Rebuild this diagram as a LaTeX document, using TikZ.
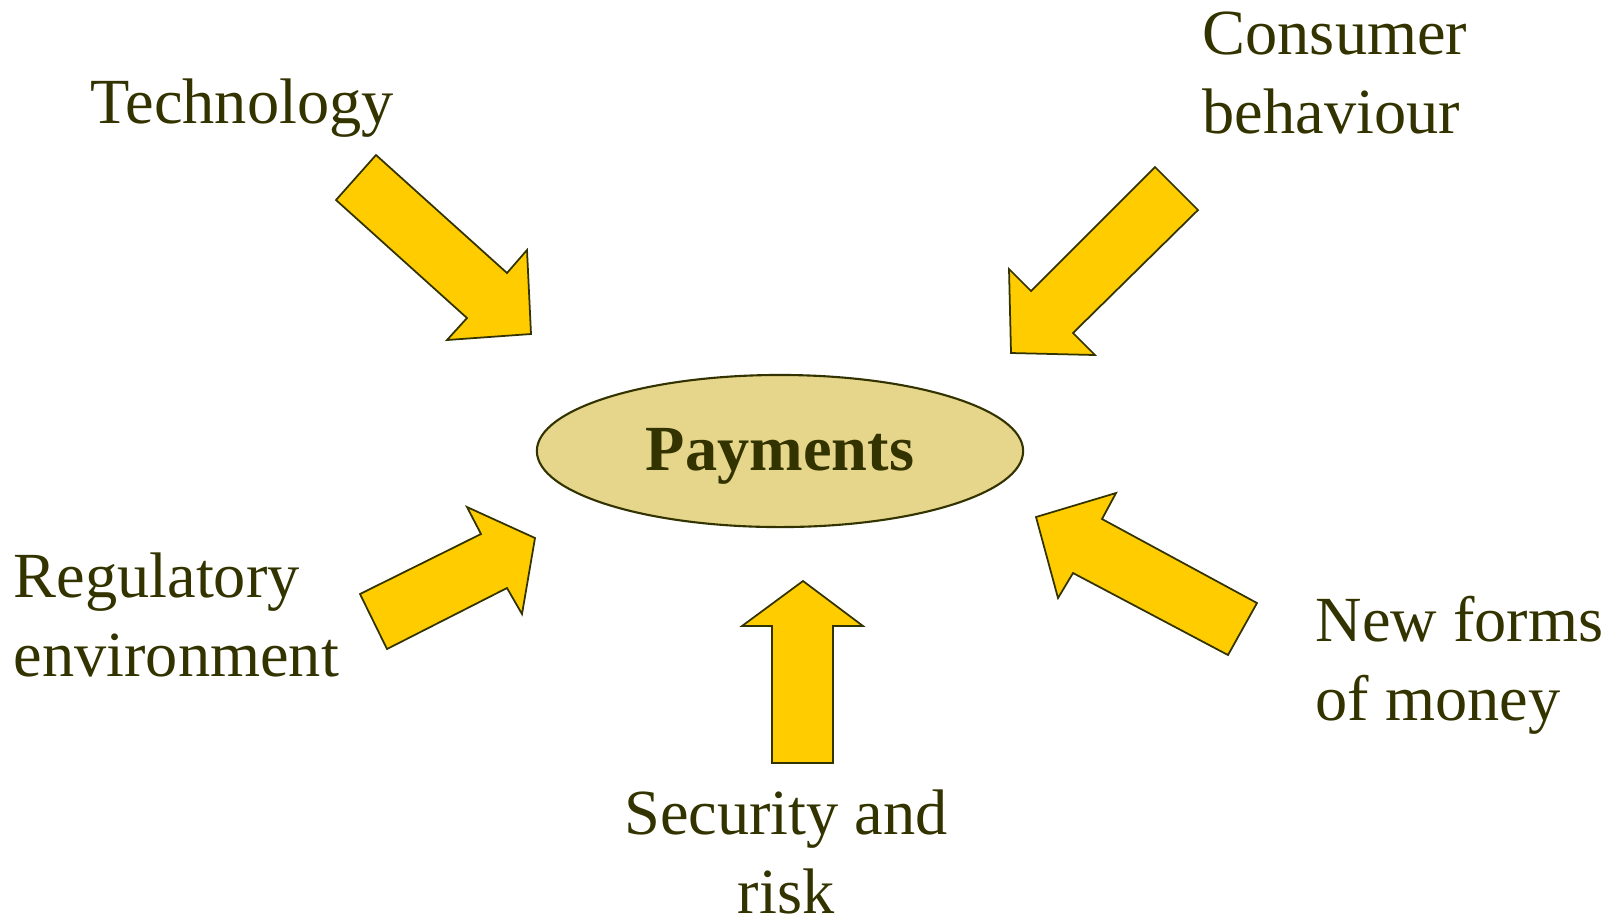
\documentclass[tikz,border=0pt]{standalone}
\usepackage{fontspec}
\setmainfont{Liberation Serif}
\usetikzlibrary{shapes.geometric}
\definecolor{olivetext}{HTML}{333300}
\definecolor{arrowfill}{HTML}{FFCC00}
\definecolor{ovalfill}{HTML}{E5D68B}

\begin{document}
\begin{tikzpicture}[
		x=0.01cm, y=-0.01cm,
		every node/.style={inner sep=0pt, text=olivetext, font=\fontsize{18.3}{22.2}\selectfont},
		driver/.style={anchor=base west, align=left},
		blockarrow/.style={fill=arrowfill, draw=olivetext, line width=0.5pt, line join=miter}
	]
  \useasboundingbox (0,0) rectangle (1606,923);
  \node (pay) [ellipse, draw=olivetext, fill=ovalfill, line width=0.6pt,
    minimum width=4.86cm, minimum height=1.52cm, text height=0.38cm, text depth=0pt,
    font=\fontsize{18.3}{22.2}\selectfont\bfseries]
    at (780,451) {Payments};
  \node (tech) [driver] at (90,123) {Technology};
  \node (cons) [driver] at (1202,133) {Consumer\\behaviour};
  \node (regu) [driver] at (13,676) {Regulatory\\environment};
  \node (newf) [driver] at (1315,720) {New forms\\of money};
  \node (secu) [anchor=base, align=center] at (786,913) {Security and\\risk};
  % arrows towards the oval
  \draw[blockarrow] (376,155) -- (336,200) -- (467,318) -- (447,340) -- (531,334) -- (527,250) -- (507,273) -- cycle;
  \draw[blockarrow] (1155,167) -- (1198,210) -- (1073,333) -- (1095,355) -- (1011,353) -- (1009,269) -- (1031,291) -- cycle;
  \draw[blockarrow] (360,594) -- (387,649) -- (507,588) -- (522,614) -- (535,538) -- (467,507) -- (481,534) -- cycle;
  \draw[blockarrow] (1257,603) -- (1228,655) -- (1073,573) -- (1058,598) -- (1036,517) -- (1116,493) -- (1102,519) -- cycle;
  \draw[blockarrow] (772,763) -- (833,763) -- (833,626) -- (863,626) -- (803,581) -- (742,626) -- (772,626) -- cycle;
\end{tikzpicture}
\end{document}
